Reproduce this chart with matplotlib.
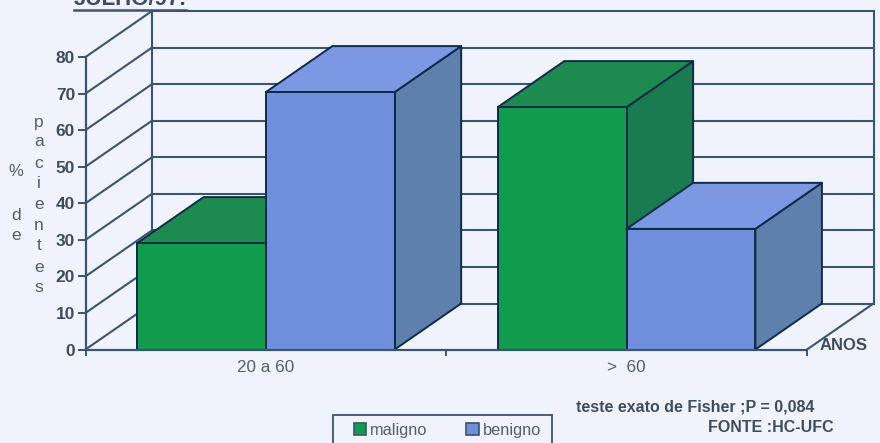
import matplotlib
matplotlib.use("Agg")
import matplotlib.pyplot as plt
from matplotlib.lines import Line2D
from matplotlib.patches import Polygon, Rectangle, Patch

plt.rcParams['font.family'] = ['Liberation Sans', 'DejaVu Sans']

categories = ["20 a 60", ">  60"]
series_names = ["maligno", "benigno"]
maligno = [29.1, 66.3]
benigno = [70.4, 33.0]
y_ticks = [0, 10, 20, 30, 40, 50, 60, 70, 80]

W, H = 880, 443
BG = "#f0f3fb"
LINE = "#3a5472"
TEXT = "#3f4c60"
SOFT = "#525d6e"
EDGE = "#0d2a4a"
FRONT = ["#109b4d", "#6f8fdd"]
TOP = ["#1d8b50", "#7d98e2"]
SIDE = ["#1a7a50", "#5f80ad"]

fig = plt.figure(figsize=(W / 100, H / 100), dpi=100, facecolor=BG)
L, R, T, B = 85.5, 807.0, 57.0, 349.5
ax = fig.add_axes([L / W, 1 - B / H, (R - L) / W, (B - T) / H])
ax.set_facecolor("none")
ax.set_xlim(0, len(categories))
ax.set_ylim(0, 80)

# depth of the 3D box, in data units
DX = 66.5 / ((R - L) / len(categories))
DY = 46.0 / ((B - T) / 80)
NC = len(categories)

lw = 1.5
for v in y_ticks:
    ax.plot([DX, NC + DX], [v + DY, v + DY], color=LINE, lw=lw, clip_on=False, zorder=1)
    ax.plot([0, DX], [v, v + DY], color=LINE, lw=lw, clip_on=False, zorder=1)
ax.plot([DX, DX], [DY, 80 + DY], color=LINE, lw=lw, clip_on=False, zorder=1)
ax.plot([NC + DX, NC + DX], [DY, 80 + DY], color=LINE, lw=lw, clip_on=False, zorder=1)
ax.plot([NC, NC + DX], [0, DY], color=LINE, lw=lw, clip_on=False, zorder=1)

BAR_W = 0.357
z = 3
for c in range(NC):
    for s, vals in enumerate([maligno, benigno]):
        x0 = c + 0.5 + (s - 1) * BAR_W
        x1 = x0 + BAR_W
        v = vals[c]
        kw = dict(edgecolor=EDGE, lw=1.4, joinstyle="round", clip_on=False, zorder=z)
        ax.add_patch(Polygon([(x1, 0), (x1 + DX, DY), (x1 + DX, v + DY), (x1, v)], facecolor=SIDE[s], **kw))
        ax.add_patch(Polygon([(x0, v), (x0 + DX, v + DY), (x1 + DX, v + DY), (x1, v)], facecolor=TOP[s], **kw))
        ax.bar(x0, v, BAR_W, align="edge", color=FRONT[s], edgecolor=EDGE, lw=1.4, zorder=z, clip_on=False)
        z += 1

for side in ("top", "right"):
    ax.spines[side].set_visible(False)
for side in ("left", "bottom"):
    ax.spines[side].set_color(LINE)
    ax.spines[side].set_linewidth(1.6)
    ax.spines[side].set_zorder(10)
ax.set_yticks(y_ticks)
ax.set_yticklabels([str(v) for v in y_ticks], fontweight="bold", fontsize=12.5, color=TEXT)
ax.tick_params(axis="y", length=6, width=1.4, color=LINE, pad=1.5)
ax.set_xticks(range(NC + 1))
ax.set_xticklabels([""] * (NC + 1))
ax.tick_params(axis="x", length=4, width=1.4, color=LINE)
for c, name in enumerate(categories):
    ax.text(c + 0.5, -3.0, name, ha="center", va="top", fontsize=12.3, color=SOFT)


def ptext(x, y, s, **kw):
    kw.setdefault("color", TEXT)
    kw.setdefault("ha", "center")
    kw.setdefault("va", "center")
    return fig.text(x / W, 1 - y / H, s, **kw)


# the title is cut by the top edge in the reference as well
ptext(130, 5, "JULHO/97.", fontsize=16, fontweight="bold", va="baseline")
fig.add_artist(Line2D([74 / W, 186 / W], [1 - 9.5 / H] * 2, color=LINE, lw=1.8))

ptext(16, 172, "%", fontsize=12, color=SOFT)
for ch, y in zip("de", [215, 236]):
    ptext(16, y, ch, fontsize=12.5, color=SOFT)
for ch, y in zip("pacientes", [122, 142, 163, 183, 204, 226, 246, 267, 288]):
    ptext(39, y, ch, fontsize=12.5, color=SOFT)

ptext(844, 345, "ANOS", fontsize=12, fontweight="bold")
ptext(576, 407, "teste exato de Fisher ;P = 0,084", fontsize=11.5, fontweight="bold", ha="left")
ptext(708, 428, "FONTE :HC-UFC", fontsize=11.5, fontweight="bold", ha="left")

# legend box runs off the bottom of the picture
fig.add_artist(Rectangle((333 / W, -0.02), 219 / W, (443 - 415) / H + 0.02, facecolor="none",
                         edgecolor=LINE, lw=1.3, transform=fig.transFigure))
handles = [Patch(facecolor=FRONT[i], edgecolor=LINE, lw=1.2) for i in range(2)]
leg = fig.legend(handles, series_names, loc="center left",
                 bbox_to_anchor=(354 / W, 1 - 430 / H), ncol=2, frameon=False, fontsize=11.8,
                 handlelength=0.75, handleheight=0.75, handletextpad=0.25, columnspacing=2.35,
                 borderaxespad=0, borderpad=0, labelcolor=SOFT)

fig.savefig("out.png", dpi=100, facecolor=BG)
